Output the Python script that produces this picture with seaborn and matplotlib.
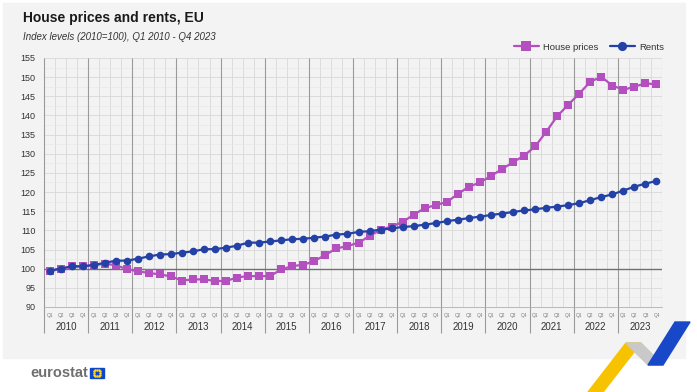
import numpy as np
import pandas as pd
import matplotlib
matplotlib.use("Agg")
import matplotlib.pyplot as plt
from matplotlib.patches import Rectangle, Polygon
import seaborn as sns

sns.set_theme(style="white")
plt.rcParams["font.family"] = ["Liberation Sans Narrow", "Liberation Sans", "DejaVu Sans"]

# data: quarterly index levels, 2010=100
years = list(range(2010, 2024))
quarters = ["Q1", "Q2", "Q3", "Q4"]

house_prices = [
    99.3, 100.0, 100.6, 100.6, 100.9, 101.3, 100.9, 99.9,
    99.3, 98.9, 98.5, 98.0, 96.9, 97.2, 97.2, 96.8,
    96.8, 97.7, 98.1, 98.0, 98.1, 99.8, 100.7, 101.0,
    102.0, 103.6, 105.3, 105.9, 106.8, 108.5, 110.2, 111.0,
    112.2, 114.1, 115.8, 116.6, 117.4, 119.5, 121.4, 122.5,
    124.2, 126.0, 127.8, 129.5, 131.9, 135.7, 139.8, 142.8,
    145.7, 148.8, 150.1, 147.8, 146.7, 147.5, 148.4, 148.1,
]
rents = [
    99.5, 100.0, 100.6, 100.6, 101.0, 101.5, 102.1, 102.1,
    102.6, 103.2, 103.7, 103.8, 104.2, 104.5, 105.1, 105.1,
    105.5, 106.0, 106.8, 106.8, 107.1, 107.4, 107.7, 107.8,
    108.1, 108.4, 108.9, 109.1, 109.6, 109.8, 110.2, 110.5,
    110.9, 111.1, 111.5, 111.9, 112.4, 112.8, 113.2, 113.6,
    114.0, 114.4, 114.8, 115.2, 115.5, 115.9, 116.2, 116.6,
    117.1, 117.9, 118.7, 119.4, 120.4, 121.4, 122.2, 122.9,
]

n = len(rents)
df = pd.DataFrame({
    "idx": list(range(n)) * 2,
    "value": house_prices + rents,
    "series": ["House prices"] * n + ["Rents"] * n,
})

PURPLE = "#b44fbf"
BLUE = "#2441a6"
BG = "#f3f3f3"

fig = plt.figure(figsize=(6.97, 3.92), dpi=100, facecolor="white")
fig.patches.append(Rectangle((3 / 697, 1 - 358 / 392), 682 / 697, 355 / 392,
                             transform=fig.transFigure, color=BG, zorder=-5))

ax = fig.add_axes([44 / 697, 1 - 307 / 392, 618 / 697, 249 / 392])
ax.set_zorder(2)
ax.set_facecolor(BG)

sns.lineplot(data=df, x="idx", y="value", hue="series", style="series",
             markers={"House prices": "s", "Rents": "o"}, dashes=False,
             palette={"House prices": PURPLE, "Rents": BLUE},
             markersize=5.5, markeredgewidth=0, linewidth=1.6, ax=ax, zorder=5)

ax.set_xlim(-0.5, n - 0.5)
ax.set_ylim(90, 155)
ax.set_yticks(np.arange(90, 156, 5))
ax.set_yticks(np.arange(92.5, 155, 2.5), minor=True)
ax.set_xticks(range(n))
ax.set_xticklabels(quarters * len(years), rotation=0)
ax.set_xticks(np.arange(-0.5, n, 1), minor=True)

ax.grid(axis="y", which="major", color="#d8d8d8", lw=0.6)
ax.grid(axis="y", which="minor", color="#e6e6e6", lw=0.4)
ax.grid(axis="x", which="minor", color="#d8d8d8", lw=0.6)
ax.axhline(100, color="#707070", lw=1.0, zorder=3)

# year separators reaching down into the label band
bounds = [4 * i - 0.5 for i in range(len(years))] + [n - 0.5]
ax.vlines(bounds[:-1], -0.105, 1, transform=ax.get_xaxis_transform(),
          colors="#9a9a9a", lw=0.8, clip_on=False, zorder=2)
ax.vlines([bounds[-1]], 0, 1, transform=ax.get_xaxis_transform(),
          colors="#b0b0b0", lw=0.8, zorder=2)
for i, y in enumerate(years):
    ax.text(4 * i + 1.5, -0.08, str(y), transform=ax.get_xaxis_transform(),
            ha="center", va="center", fontsize=7, color="#333333")

ax.tick_params(axis="x", which="major", length=0, pad=4, labelsize=3.4,
               labelcolor="#7a7a7a")
ax.tick_params(axis="x", which="minor", length=8, width=0.5, color="#c0c0c0",
               direction="out")
ax.tick_params(axis="y", which="both", length=0, pad=6, labelsize=6.5,
               labelcolor="#333333")
for s in ["top", "right", "left"]:
    ax.spines[s].set_visible(False)
ax.spines["bottom"].set_color("#b0b0b0")
ax.spines["bottom"].set_linewidth(0.6)
ax.set_xlabel("")
ax.set_ylabel("")

leg = ax.legend(loc="lower right", bbox_to_anchor=(1.01, 1.01), ncol=2,
                frameon=False, fontsize=6.8, handlelength=2.6, columnspacing=1.2,
                borderaxespad=0, handletextpad=0.5, markerscale=1.2)
for t in leg.get_texts():
    t.set_color("#333333")

fig.text(23 / 697, 1 - 18 / 392, "House prices and rents, EU", fontsize=10,
         fontweight="bold", color="#1a1a1a", va="center")
fig.text(23 / 697, 1 - 37 / 392, "Index levels (2010=100), Q1 2010 - Q4 2023",
         fontsize=7, style="italic", color="#333333", va="center")

# eurostat logo
fig.text(30 / 697, 1 - 373 / 392, "eurostat", fontsize=10.5, fontweight="bold",
         color="#6f6f6f", va="center", family=["Liberation Sans", "DejaVu Sans"])
fig.patches.append(Rectangle((90 / 697, 1 - 378 / 392), 14 / 697, 10 / 392,
                             transform=fig.transFigure, color="#0e47cb"))
ang = np.linspace(0, 2 * np.pi, 12, endpoint=False)
fig.add_artist(plt.Line2D((97 + 3.2 * np.cos(ang)) / 697,
                          (1 - 373 / 392) + 3.2 * np.sin(ang) / 392,
                          ls="", marker="o", ms=0.8, color="#ffd617",
                          transform=fig.transFigure))

# decorative swoosh
fig.patches.append(Polygon([(588 / 697, 0.0), (603 / 697, 0.0),
                            (641 / 697, 1 - 343 / 392), (626 / 697, 1 - 343 / 392)],
                           closed=True, transform=fig.transFigure, color="#f7c300"))
fig.patches.append(Polygon([(626 / 697, 1 - 343 / 392), (641 / 697, 1 - 343 / 392),
                            (663 / 697, 1 - 365 / 392), (648 / 697, 1 - 365 / 392)],
                           closed=True, transform=fig.transFigure, color="#c9c9c9"))
fig.patches.append(Polygon([(648 / 697, 1 - 365 / 392), (663 / 697, 1 - 365 / 392),
                            (690 / 697, 1 - 322 / 392), (675 / 697, 1 - 322 / 392)],
                           closed=True, transform=fig.transFigure, color="#1848c8"))

fig.savefig("out.png", dpi=100, facecolor="white")
